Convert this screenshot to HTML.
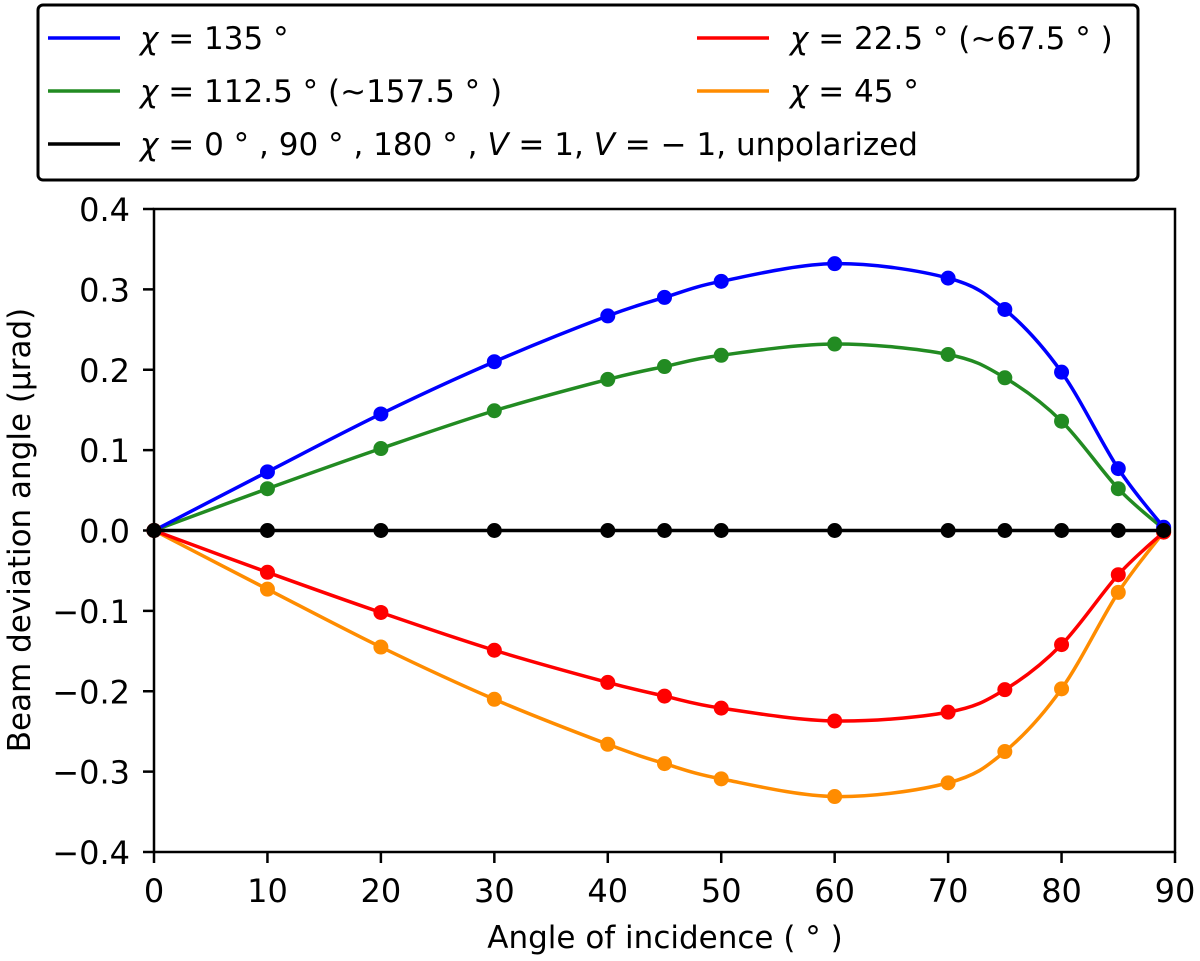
<!DOCTYPE html>
<html><head><meta charset="utf-8"><style>
html,body{margin:0;padding:0;background:#fff;}
svg{display:block;font-family:"DejaVu Sans","Liberation Sans",sans-serif;}
</style></head><body>
<svg id="chart" width="1200" height="961" viewBox="0 0 1200 961">
<g id="legend">
<rect x="38" y="5" width="1100" height="175" rx="5" fill="#fff" stroke="#000" stroke-width="3"/>
<g><line x1="48" y1="38" x2="120" y2="38" stroke="#0000ff" stroke-width="3.5"/><text x="140" y="49" font-size="31"><tspan font-style="italic">χ</tspan> = 135 °</text></g>
<g><line x1="48" y1="91" x2="120" y2="91" stroke="#228b22" stroke-width="3.5"/><text x="140" y="102" font-size="31"><tspan font-style="italic">χ</tspan> = 112.5 °  (~157.5 ° )</text></g>
<g><line x1="48" y1="144" x2="120" y2="144" stroke="#000" stroke-width="3.5"/><text x="140" y="155" font-size="31" textLength="778" lengthAdjust="spacingAndGlyphs"><tspan font-style="italic">χ</tspan> = 0 ° , 90 ° , 180 ° , <tspan font-style="italic">V</tspan> = 1, <tspan font-style="italic">V</tspan> = − 1, unpolarized</text></g>
<g><line x1="697" y1="38" x2="769" y2="38" stroke="#ff0000" stroke-width="3.5"/><text x="790" y="49" font-size="31"><tspan font-style="italic">χ</tspan> = 22.5 °  (~67.5 ° )</text></g>
<g><line x1="697" y1="91" x2="769" y2="91" stroke="#ff8c00" stroke-width="3.5"/><text x="790" y="102" font-size="31"><tspan font-style="italic">χ</tspan> = 45 °</text></g>
</g>
<g id="axes"></g>
<g id="series"></g>
<rect x="154" y="209" width="1021" height="643" fill="none" stroke="#000" stroke-width="2.5"/>
<text x="665" y="948" font-size="31" text-anchor="middle">Angle of incidence ( ° )</text>
<text transform="translate(30,530) rotate(-90)" font-size="31" text-anchor="middle">Beam deviation angle (μrad)</text>
</svg>
<script>
const xVals = [0,10,20,30,40,45,50,60,70,75,80,85,89];
const blue = [0,0.073,0.145,0.21,0.267,0.29,0.31,0.332,0.314,0.275,0.197,0.077,0.004];
const green = [0,0.052,0.102,0.149,0.188,0.204,0.218,0.232,0.219,0.19,0.136,0.052,0.002];
const red = [0,-0.052,-0.102,-0.149,-0.189,-0.206,-0.221,-0.237,-0.226,-0.198,-0.142,-0.055,-0.002];
const orange = [0,-0.073,-0.145,-0.21,-0.266,-0.29,-0.309,-0.331,-0.314,-0.275,-0.197,-0.077,-0.002];
const black = [0,0,0,0,0,0,0,0,0,0,0,0,0];
const xTicks = [0,10,20,30,40,50,60,70,80,90];
const yTicks = [-0.4,-0.3,-0.2,-0.1,0,0.1,0.2,0.3,0.4];

const NS="http://www.w3.org/2000/svg";
const L=154,R=1175,T=209,B=852;
const sx=v=>L+(v-0)/90*(R-L);
const sy=v=>B-(v+0.4)/0.8*(B-T);
const axes=document.getElementById('axes');
function mk(tag,attrs,parent){const e=document.createElementNS(NS,tag);for(const k in attrs)e.setAttribute(k,attrs[k]);parent.appendChild(e);return e;}
xTicks.forEach(t=>{
  const g=mk('g',{},axes);
  
  
  mk('line',{x1:sx(t),x2:sx(t),y1:B,y2:B+11,stroke:'#000','stroke-width':2.5},g);
  const tx=mk('text',{x:sx(t),y:B+50,'font-size':32,'text-anchor':'middle'},g);tx.textContent=t;
});
yTicks.forEach(t=>{
  const g=mk('g',{},axes);
  
  
  mk('line',{x1:L-11,x2:L,y1:sy(t),y2:sy(t),stroke:'#000','stroke-width':2.5},g);
  const tx=mk('text',{x:L-24,y:sy(t)+12,'font-size':32,'text-anchor':'end'},g);
  tx.textContent=(t<0?'−':'')+Math.abs(t).toFixed(1);
});
const ser=document.getElementById('series');
function path(ys){
  const p=xVals.map((x,i)=>[sx(x),sy(ys[i])]);
  let d='M'+p[0][0]+','+p[0][1];
  for(let i=0;i<p.length-1;i++){
    const p0=p[Math.max(0,i-1)],p1=p[i],p2=p[i+1],p3=p[Math.min(p.length-1,i+2)];
    const c1=[p1[0]+(p2[0]-p0[0])/6,p1[1]+(p2[1]-p0[1])/6];
    const c2=[p2[0]-(p3[0]-p1[0])/6,p2[1]-(p3[1]-p1[1])/6];
    d+=' C'+c1+' '+c2+' '+p2;
  }
  return d;
}
function draw(ys,color,name){
  const g=mk('g',{},ser);
  
  
  mk('path',{d:path(ys),fill:'none',stroke:color,'stroke-width':3.5},g);
  xVals.forEach((x,i)=>{
    const c=mk('circle',{cx:sx(x),cy:sy(ys[i]),r:7.5,fill:color},g);
    
    
  });
}
draw(green,'#228b22','series-112');
draw(blue,'#0000ff','series-135');
draw(orange,'#ff8c00','series-45');
draw(red,'#ff0000','series-22');
draw(black,'#000000','series-zero');
</script>
</body></html>
